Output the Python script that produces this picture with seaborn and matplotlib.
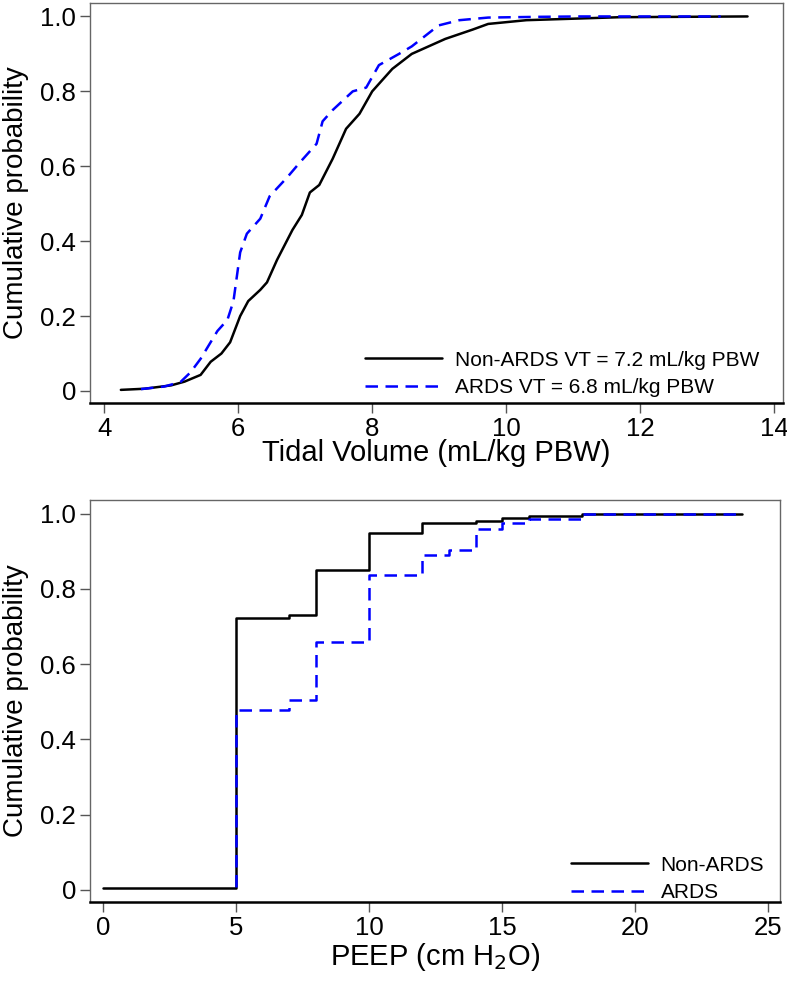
import matplotlib
matplotlib.use("Agg")
import matplotlib.pyplot as plt
import seaborn as sns
import pandas as pd

sns.set_theme(style="ticks")
plt.rcParams["font.family"] = ["Liberation Sans", "DejaVu Sans"]
plt.rcParams["text.color"] = "black"
plt.rcParams["axes.labelcolor"] = "black"

# tidal volume cdf
vt_non_x = [4.25, 4.6, 5.0, 5.2, 5.44, 5.59, 5.75, 5.88, 6.03, 6.15, 6.33, 6.43, 6.58, 6.81, 6.95,
            7.07, 7.21, 7.41, 7.61, 7.81, 8.0, 8.1, 8.3, 8.59, 9.09, 9.5, 9.73, 10.3, 11.0, 11.7, 13.6]
vt_non_y = [0.003, 0.006, 0.015, 0.025, 0.043, 0.078, 0.10, 0.13, 0.20, 0.24, 0.27, 0.29, 0.35, 0.43, 0.47,
            0.53, 0.55, 0.62, 0.70, 0.74, 0.80, 0.82, 0.86, 0.90, 0.94, 0.965, 0.98, 0.99, 0.994, 0.998, 1.0]
vt_ards_x = [4.55, 4.9, 5.14, 5.29, 5.44, 5.69, 5.84, 5.93, 6.03, 6.13, 6.33, 6.47, 6.73, 6.92,
             7.17, 7.26, 7.41, 7.71, 7.91, 8.1, 8.4, 8.59, 8.99, 9.3, 9.73, 10.5, 11.1, 13.2]
vt_ards_y = [0.005, 0.012, 0.024, 0.05, 0.086, 0.16, 0.19, 0.24, 0.37, 0.42, 0.46, 0.52, 0.57, 0.61,
             0.66, 0.72, 0.75, 0.80, 0.81, 0.87, 0.90, 0.92, 0.976, 0.99, 0.997, 0.999, 1.0, 1.0]

# PEEP cdf (step function)
peep_non_x = [0, 5, 7, 8, 10, 12, 14, 15, 16, 18, 24]
peep_non_y = [0.004, 0.723, 0.731, 0.851, 0.949, 0.976, 0.981, 0.989, 0.994, 1.0, 1.0]
peep_ards_x = [5, 5, 7, 8, 10, 12, 13, 14, 15, 16, 18, 24]
peep_ards_y = [0.007, 0.477, 0.504, 0.659, 0.837, 0.891, 0.904, 0.96, 0.976, 0.985, 1.0, 1.0]

yticks = [0, 0.2, 0.4, 0.6, 0.8, 1.0]
ytick_labels = ["0", "0.2", "0.4", "0.6", "0.8", "1.0"]

fig = plt.figure(figsize=(7.87, 9.86), dpi=100)
ax1 = fig.add_axes([0.1144, 0.5913, 0.8806, 0.4057])
ax2 = fig.add_axes([0.1144, 0.0852, 0.877, 0.4077])

lw = 1.8
sns.lineplot(x=vt_non_x, y=vt_non_y, ax=ax1, color="black", lw=lw, sort=False, estimator=None,
             label="Non-ARDS VT = 7.2 mL/kg PBW")
sns.lineplot(x=vt_ards_x, y=vt_ards_y, ax=ax1, color="blue", lw=lw, sort=False, estimator=None,
             linestyle=(0, (5, 3)), label="ARDS VT = 6.8 mL/kg PBW")

sns.lineplot(x=peep_non_x, y=peep_non_y, ax=ax2, color="black", lw=lw, sort=False, estimator=None,
             drawstyle="steps-post", label="Non-ARDS")
sns.lineplot(x=peep_ards_x, y=peep_ards_y, ax=ax2, color="blue", lw=lw, sort=False, estimator=None,
             drawstyle="steps-post", linestyle=(0, (5, 3)), label="ARDS")

ax1.set_xlim(3.79, 14.13)
ax1.set_xticks([4, 6, 8, 10, 12, 14])
ax2.set_xlim(-0.49, 25.45)
ax2.set_xticks([0, 5, 10, 15, 20, 25])

for ax in (ax1, ax2):
    ax.set_ylim(-0.032, 1.036)
    ax.set_yticks(yticks)
    ax.set_yticklabels(ytick_labels)
    ax.tick_params(axis="both", labelsize=18.5, length=7, width=1, color="#555555",
                   labelcolor="black", pad=3)
    for s in ["left", "top", "right"]:
        ax.spines[s].set_color("#666666")
        ax.spines[s].set_linewidth(1)
    ax.spines["bottom"].set_color("black")
    ax.spines["bottom"].set_linewidth(1.8)
    ax.set_ylabel("Cumulative probability", fontsize=20)
    ax.yaxis.set_label_coords(-0.088, 0.5)

ax1.set_xlabel("Tidal Volume (mL/kg PBW)", fontsize=21)
ax1.xaxis.set_label_coords(0.5, -0.09)
ax2.set_xlabel("PEEP (cm H$_2$O)", fontsize=21)
ax2.xaxis.set_label_coords(0.5, -0.098)

ax1.legend(loc="lower left", bbox_to_anchor=(0.397, 0.015), frameon=False, fontsize=15,
           handlelength=3.7, handletextpad=0.6, labelspacing=0.4, borderpad=0, borderaxespad=0)
ax2.legend(loc="lower left", bbox_to_anchor=(0.697, 0.0), frameon=False, fontsize=15,
           handlelength=3.7, handletextpad=0.6, labelspacing=0.4, borderpad=0, borderaxespad=0)

fig.savefig("out.png", dpi=100)
